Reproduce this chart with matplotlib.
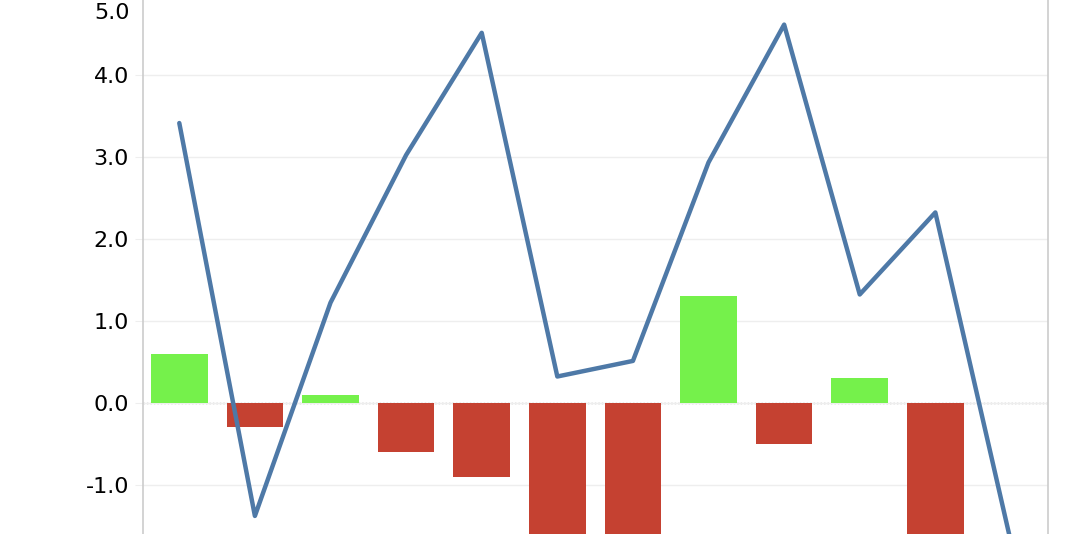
import matplotlib.pyplot as plt
import numpy as np

# values
bar_vals = [0.6, -0.3, 0.1, -0.6, -0.9, -2.0, -2.2, 1.3, -0.5, 0.3, -1.9, 0.0]
line_vals = [3.41, -1.38, 1.22, 3.02, 4.51, 0.32, 0.51, 2.93, 4.61, 1.32, 2.32, -1.70]
y_ticks = [-1.0, 0.0, 1.0, 2.0, 3.0, 4.0]

green = '#75f14b'
red = '#c54131'
blue = '#4e79a7'

x = np.arange(len(bar_vals))
colors = [green if v >= 0 else red for v in bar_vals]

fig = plt.figure(figsize=(10.68, 5.34), dpi=100)
ax = fig.add_axes([143/1068, 0, (1048-143)/1068, 1])

ax.bar(x, bar_vals, width=0.75, color=colors, zorder=2)
ax.plot(x, line_vals, color=blue, lw=3.2, solid_joinstyle='round', solid_capstyle='round', zorder=3)
ax.axhline(0, color='#999999', lw=1, ls=(0, (1, 1.5)), zorder=1)

ax.set_xlim(-0.48, 11.49)
ax.set_ylim(-1.60, 4.91)
ax.set_yticks(y_ticks)
ax.set_yticklabels(['%.1f' % t for t in y_ticks])
ax.set_xticks([])
ax.grid(axis='y', color='#eeeeee', lw=1, zorder=0)
ax.tick_params(axis='y', length=6, color='#eeeeee', pad=4, labelsize=16)

for s in ['top', 'bottom']:
    ax.spines[s].set_visible(False)
for s in ['left', 'right']:
    ax.spines[s].set_color('#cccccc')
    ax.spines[s].set_linewidth(1.2)

# top label sits inside the view though its gridline is just above it
fig.text(130/1068, 1 - 13/534, '5.0', ha='right', va='center', fontsize=16)

fig.savefig('out.png', dpi=100)
